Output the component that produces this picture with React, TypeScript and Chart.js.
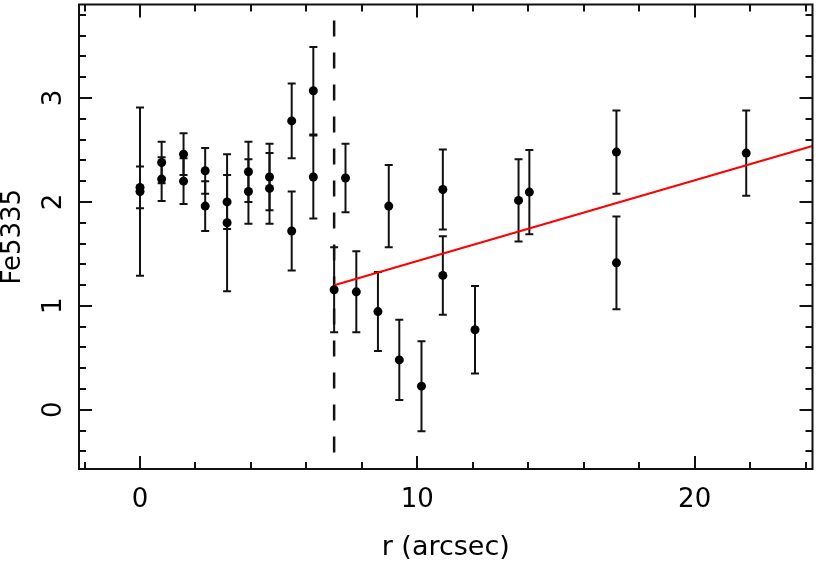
import React, { useEffect, useRef } from "react";
import { Chart, registerables } from "chart.js";

Chart.register(...registerables);

// ---- data ----
const rValues = [
  0, 0, 0.78, 0.78, 1.57, 1.57, 2.35, 2.35, 3.14, 3.14, 3.91, 3.91, 4.67, 4.67,
  5.47, 5.47, 6.25, 6.25, 7.0, 7.41, 7.8, 8.58, 8.97, 9.35, 10.15, 10.92, 10.92,
  12.08, 13.65, 14.04, 17.18, 17.18, 21.86,
];
const feValues = [
  2.1, 2.14, 2.38, 2.22, 2.46, 2.2, 2.3, 1.96, 1.8, 2.0, 2.29, 2.1, 2.24, 2.13,
  2.78, 1.72, 3.07, 2.24, 1.155, 2.23, 1.135, 0.945, 1.96, 0.48, 0.227, 2.12, 1.293,
  0.77, 2.015, 2.095, 2.48, 1.414, 2.47,
];
const feErrors = [
  0.81, 0.2, 0.2, 0.21, 0.2, 0.22, 0.22, 0.24, 0.66, 0.26, 0.29, 0.31, 0.32, 0.34,
  0.36, 0.38, 0.42, 0.4, 0.41, 0.33, 0.39, 0.38, 0.395, 0.387, 0.433, 0.385, 0.378,
  0.42, 0.395, 0.405, 0.4, 0.446, 0.41,
];
const boundaryR = 7.0;
const fitR = [7.0, 24.25];
const fitFe = [1.198, 2.538];

const xRange = [-2.2, 24.25];
const yRange = [-0.57, 3.9];
const xTickValues = [0, 10, 20];
const yTickValues = [0, 1, 2, 3];
const xMinorStep = 2;
const yMinorStep = 0.2;
const xTitle = "r (arcsec)";
const yTitle = "Fe5335";

const FONT = "DejaVu Sans";

const errorBarPlugin = {
  id: "errorBars",
  beforeDatasetsDraw(chart: any) {
    const { ctx, scales, chartArea } = chart;
    const xs = scales.x;
    const ys = scales.y;
    ctx.save();
    ctx.beginPath();
    ctx.rect(chartArea.left, chartArea.top, chartArea.right - chartArea.left, chartArea.bottom - chartArea.top);
    ctx.clip();
    ctx.strokeStyle = "#111";
    ctx.lineWidth = 2;
    const cap = 4;
    for (let i = 0; i < rValues.length; i++) {
      const px = xs.getPixelForValue(rValues[i]);
      const top = ys.getPixelForValue(feValues[i] + feErrors[i]);
      const bot = ys.getPixelForValue(feValues[i] - feErrors[i]);
      ctx.beginPath();
      ctx.moveTo(px, top);
      ctx.lineTo(px, bot);
      ctx.moveTo(px - cap, top);
      ctx.lineTo(px + cap, top);
      ctx.moveTo(px - cap, bot);
      ctx.lineTo(px + cap, bot);
      ctx.stroke();
    }
    ctx.restore();
  },
};

const framePlugin = {
  id: "frameTicks",
  afterDatasetsDraw(chart: any) {
    const { ctx, chartArea, scales } = chart;
    const { left, right, top, bottom } = chartArea;
    const xs = scales.x;
    const ys = scales.y;
    ctx.save();
    ctx.strokeStyle = "#111";
    ctx.lineWidth = 2;
    ctx.strokeRect(left, top, right - left, bottom - top);
    const major = 13;
    const minor = 7;
    ctx.beginPath();
    const xStart = Math.ceil(xRange[0] / xMinorStep) * xMinorStep;
    for (let v = xStart; v <= xRange[1] + 1e-9; v += xMinorStep) {
      const isMajor = xTickValues.some((t) => Math.abs(t - v) < 1e-6);
      const len = isMajor ? major : minor;
      const px = Math.round(xs.getPixelForValue(v));
      ctx.moveTo(px, bottom);
      ctx.lineTo(px, bottom - len);
      ctx.moveTo(px, top);
      ctx.lineTo(px, top + len);
    }
    const yStart = Math.ceil(yRange[0] / yMinorStep) * yMinorStep;
    for (let v = yStart; v <= yRange[1] + 1e-9; v += yMinorStep) {
      const isMajor = yTickValues.some((t) => Math.abs(t - v) < 1e-6);
      const len = isMajor ? major : minor;
      const py = Math.round(ys.getPixelForValue(v));
      ctx.moveTo(left, py);
      ctx.lineTo(left + len, py);
      ctx.moveTo(right, py);
      ctx.lineTo(right - len, py);
    }
    ctx.stroke();
    ctx.restore();
  },
};

export default function App() {
  const ref = useRef<HTMLCanvasElement>(null);
  useEffect(() => {
    const canvas = ref.current;
    if (!canvas) return;
    const chart = new Chart(canvas, {
      type: "scatter",
      data: {
        datasets: [
          {
            label: "Fe5335",
            data: rValues.map((r, i) => ({ x: r, y: feValues[i] })),
            backgroundColor: "#000",
            borderColor: "#000",
            pointRadius: 4.5,
            pointBorderWidth: 0,
            showLine: false,
          },
          {
            label: "fit",
            data: fitR.map((r, i) => ({ x: r, y: fitFe[i] })),
            borderColor: "#ff0000",
            backgroundColor: "#ff0000",
            borderWidth: 2,
            pointRadius: 0,
            showLine: true,
          },
          {
            label: "boundary",
            data: [
              { x: boundaryR, y: yRange[1] },
              { x: boundaryR, y: yRange[0] },
            ],
            borderColor: "#111",
            borderWidth: 2.5,
            borderDash: [16, 16],
            borderDashOffset: 16,
            pointRadius: 0,
            showLine: true,
          },
        ],
      },
      options: {
        responsive: false,
        animation: false,
        devicePixelRatio: 1,
        layout: { padding: { top: 2, right: 2, left: 0, bottom: 0 } },
        plugins: {
          legend: { display: false },
          tooltip: { enabled: false },
        },
        scales: {
          x: {
            type: "linear",
            min: xRange[0],
            max: xRange[1],
            afterBuildTicks: (scale: any) => {
              scale.ticks = xTickValues.map((v) => ({ value: v }));
            },
            afterFit: (scale: any) => {
              scale.height = 97;
              scale.paddingLeft = 0;
              scale.paddingRight = 0;
            },
            grid: { display: false, drawTicks: false },
            border: { display: false },
            ticks: {
              autoSkip: false,
              padding: 16,
              color: "#000",
              font: { family: FONT, size: 26 },
              maxRotation: 0,
              minRotation: 0,
            },
            title: {
              display: true,
              text: xTitle,
              color: "#000",
              font: { family: FONT, size: 27, lineHeight: 1.2 },
              padding: { top: 0, bottom: 2 },
            },
          },
          y: {
            type: "linear",
            min: yRange[0],
            max: yRange[1],
            afterBuildTicks: (scale: any) => {
              scale.ticks = yTickValues.map((v) => ({ value: v }));
            },
            afterFit: (scale: any) => {
              scale.width = 79;
              scale.paddingTop = 0;
              scale.paddingBottom = 0;
            },
            grid: { display: false, drawTicks: false },
            border: { display: false },
            ticks: {
              autoSkip: false,
              padding: 16,
              crossAlign: "center",
              minRotation: 90,
              maxRotation: 90,
              color: "#000",
              font: { family: FONT, size: 26 },
            },
            title: {
              display: true,
              text: yTitle,
              color: "#000",
              font: { family: FONT, size: 26, lineHeight: 1 },
              padding: { top: 0, bottom: 0 },
            },
          },
        },
      } as any,
      plugins: [errorBarPlugin, framePlugin],
    });
    return () => chart.destroy();
  }, []);
  return (
    <div style={{ position: "fixed", left: 0, top: 0, width: 817, height: 566, background: "#fff" }}>
      <canvas ref={ref} width={817} height={566} style={{ display: "block", width: 817, height: 566 }} />
    </div>
  );
}
